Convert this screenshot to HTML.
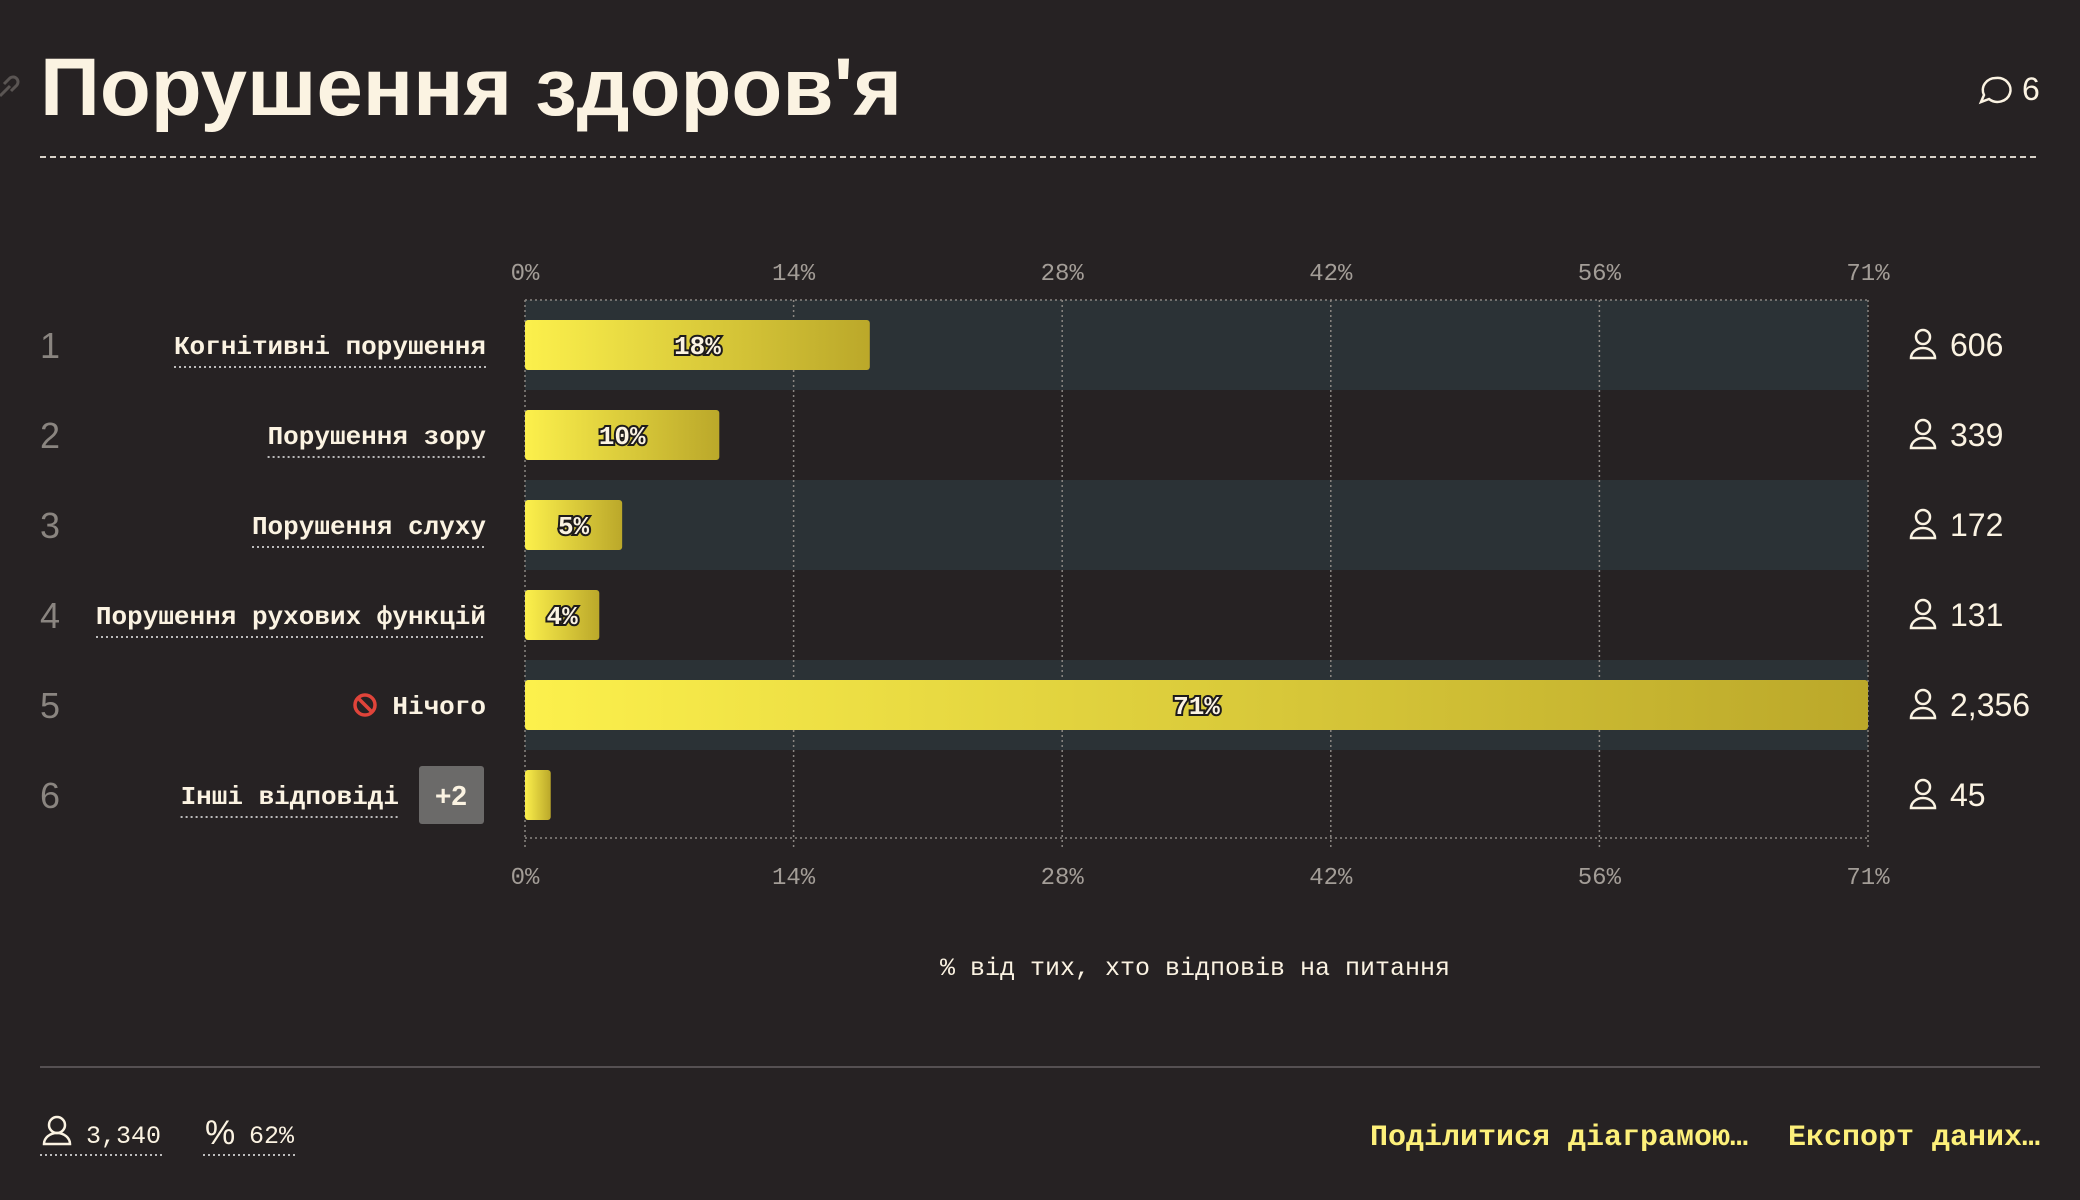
<!DOCTYPE html>
<html><head><meta charset="utf-8"><style>
html,body{margin:0;padding:0;background:#262223;}
svg{display:block}
.mono{font-family:"Liberation Mono",monospace}
.sans{font-family:"Liberation Sans",sans-serif}
</style></head><body>
<svg id="c" width="2080" height="1200" viewBox="0 0 2080 1200" xmlns="http://www.w3.org/2000/svg">
<defs>
<linearGradient id="bg" x1="0" x2="1" y1="0" y2="0"><stop offset="0" stop-color="#fcf04c"/><stop offset="1" stop-color="#bba82a"/></linearGradient>
</defs>
<rect width="2080" height="1200" fill="#262223"/>
<g stroke="#5a5553" stroke-width="3" fill="none"><path d="M0 96 l10 -10 M4 84 l6 -6 a5 5 0 0 1 7 7 l-6 6"/></g>
<text x="40" y="115" class="sans" font-weight="bold" font-size="82" fill="#fbf3e2" textLength="862" lengthAdjust="spacingAndGlyphs">Порушення здоров'я</text>
<g>
<path d="M1996 78 a13 12 0 1 1 -7 21 l-8 3 l3 -7 a13 12 0 0 1 12 -17z" fill="none" stroke="#fbf3e2" stroke-width="2.5"/>
<text x="2022" y="100" class="sans" font-size="32" fill="#fbf3e2">6</text>
</g>
<line x1="40" x2="2040" y1="157" y2="157" stroke="#d8d2c8" stroke-width="2" stroke-dasharray="6 4"/>
<g id="plot"></g>
<text x="1195" y="975" text-anchor="middle" class="mono" font-size="25" fill="#fbf3e2">% від тих, хто відповів на питання</text>
<line x1="40" x2="2040" y1="1067" y2="1067" stroke="#555052" stroke-width="2"/>
<g>
<circle cx="57" cy="1125" r="8" fill="none" stroke="#fbf3e2" stroke-width="2.5"/>
<path d="M44 1144 a13 11 0 0 1 26 0z" fill="none" stroke="#fbf3e2" stroke-width="2.5"/>
<text x="86" y="1143" class="mono" font-size="25" fill="#fbf3e2">3,340</text>
<line x1="40" x2="163" y1="1155" y2="1155" stroke="#bbb" stroke-width="2" stroke-dasharray="2 3"/>
</g>
<g>
<text x="205" y="1144" class="sans" font-size="34" fill="#fbf3e2">%</text>
<text x="249" y="1143" class="mono" font-size="25" fill="#fbf3e2">62%</text>
<line x1="203" x2="296" y1="1155" y2="1155" stroke="#bbb" stroke-width="2" stroke-dasharray="2 3"/>
</g>
<text x="1370" y="1145" class="mono" font-weight="bold" font-size="30" fill="#fdf07a" textLength="378" lengthAdjust="spacingAndGlyphs">Поділитися діаграмою…</text>
<text x="1788" y="1145" class="mono" font-weight="bold" font-size="30" fill="#fdf07a" textLength="252" lengthAdjust="spacingAndGlyphs">Експорт даних…</text>
</svg>
<script>
const categories=["Когнітивні порушення","Порушення зору","Порушення слуху","Порушення рухових функцій","Нічого","Інші відповіді"];
const values=[18.1,10.2,5.1,3.9,70.5,1.35];
const valueLabels=["18%","10%","5%","4%","71%",""];
const counts=["606","339","172","131","2,356","45"];
const tickValues=[0,14.1,28.2,42.3,56.4,70.5];
const tickLabels=["0%","14%","28%","42%","56%","71%"];
const NS="http://www.w3.org/2000/svg";
const g=document.getElementById('plot');
const X0=525,X1=1868,MAX=70.5,TOP=300,RH=90;
const x=v=>X0+(X1-X0)*v/MAX;
const y=i=>TOP+RH*i+RH/2;
function mk(t,a,p){const e=document.createElementNS(NS,t);for(const k in a)e.setAttribute(k,a[k]);(p||g).appendChild(e);return e;}
categories.forEach((c,i)=>{if(i%2===0){const b=mk('rect',{x:X0,y:TOP+RH*i,width:X1-X0,height:RH,fill:'#2b3236'});

}});
tickValues.forEach((v,i)=>{
const l=mk('line',{x1:x(v),x2:x(v),y1:TOP,y2:TOP+RH*6+8,stroke:'#8a8682','stroke-width':1.5,'stroke-dasharray':'2 3'});


[280,884].forEach((ty,j)=>{const t=mk('text',{x:x(v),y:ty,'text-anchor':'middle',class:'mono','font-size':24,fill:'#a39d97'});t.textContent=tickLabels[i];

});
});
[TOP,TOP+RH*6-2].forEach(yy=>{const l=mk('line',{x1:X0,x2:X1,y1:yy,y2:yy,stroke:'#8a8682','stroke-width':1.5,'stroke-dasharray':'2 3'});

});
categories.forEach((c,i)=>{
const cy=y(i);
const r=mk('text',{x:40,y:cy+13,class:'sans','font-size':36,fill:'#8a8580'});r.textContent=i+1;


const rx=i===5?399:486;
const lab=mk('text',{x:rx,y:cy+9,'text-anchor':'end',class:'mono','font-weight':'bold','font-size':26,fill:'#fbf3e2'});lab.textContent=c;


if(i!==4){const w=c.length*15.6;const u=mk('line',{x1:rx-w,x2:rx,y1:cy+22,y2:cy+22,stroke:'#bbb','stroke-width':2,'stroke-dasharray':'2 3'});

}
if(i===4){const ic=mk('g',{});
mk('circle',{cx:365,cy:cy,r:10,fill:'none',stroke:'#e0443a','stroke-width':3.5},ic);mk('line',{x1:358,y1:cy-7,x2:372,y2:cy+7,stroke:'#e0443a','stroke-width':3.5},ic);}
if(i===5){const bd=mk('rect',{x:419,y:cy-29,width:65,height:58,rx:3,fill:'#6b6a69'});


const bt=mk('text',{x:451,y:cy+10,'text-anchor':'middle',class:'sans','font-weight':'bold','font-size':28,fill:'#fbf3e2'});bt.textContent='+2';

}
const bar=mk('rect',{x:X0,y:cy-25,width:x(values[i])-X0,height:50,rx:3,fill:'url(#bg)'});


if(valueLabels[i]){const vt=mk('text',{x:(X0+x(values[i]))/2,y:cy+9,'text-anchor':'middle',class:'mono','font-weight':'bold','font-size':26,fill:'#fbf3e2',stroke:'#1e1b1b','stroke-width':4,'paint-order':'stroke'});vt.textContent=valueLabels[i];

}
const pi=mk('g',{fill:'none',stroke:'#fbf3e2','stroke-width':2.5});


mk('circle',{cx:1923,cy:cy-8,r:7},pi);mk('path',{d:`M1911 ${cy+13} a12 10 0 0 1 24 0z`},pi);
const ct=mk('text',{x:1950,y:cy+11,class:'sans','font-size':32,fill:'#fbf3e2'});ct.textContent=counts[i];


});
</script>
</body></html>
